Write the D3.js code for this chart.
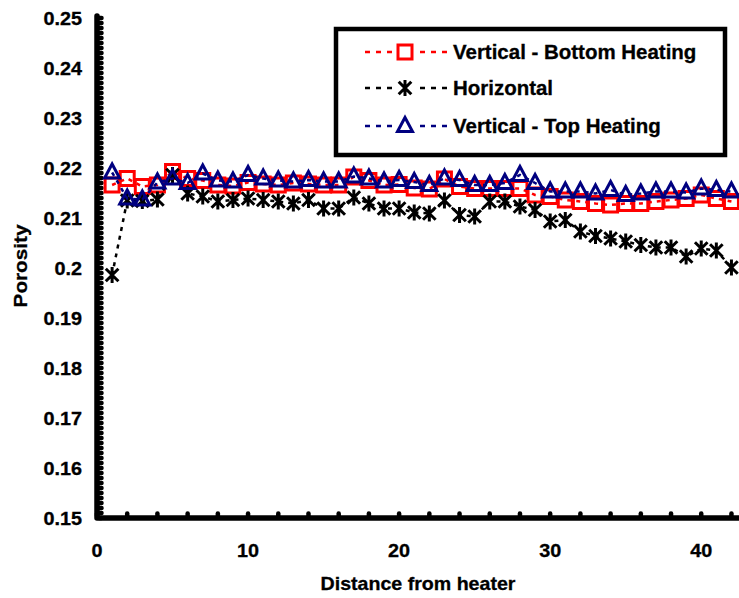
<!DOCTYPE html>
<html>
<head>
<meta charset="utf-8">
<script src="https://cdn.jsdelivr.net/npm/d3@7"></script>
<style>
  body { margin: 0; background: #fff; }
  svg { display: block; font-family: "Liberation Sans", Arial, sans-serif; font-weight: bold; }
</style>
</head>
<body>
<svg id="chart" width="739" height="598"></svg>
<script>
// distance from heater (x values)
const distance = [1, 2, 3, 4, 5, 6, 7, 8, 9, 10, 11, 12, 13, 14, 15, 16, 17, 18, 19, 20, 21,
  22, 23, 24, 25, 26, 27, 28, 29, 30, 31, 32, 33, 34, 35, 36, 37, 38, 39, 40, 41, 42];

// porosity, vertical - bottom heating
const bottomHeating = [0.2166, 0.2179, 0.2163, 0.2166, 0.2193, 0.2179, 0.2175, 0.2166, 0.2164, 0.2171,
  0.2168, 0.2166, 0.2170, 0.2168, 0.2166, 0.2166, 0.2182, 0.2175, 0.2166, 0.2167,
  0.2160, 0.2158, 0.2178, 0.2163, 0.2159, 0.2159, 0.2159, 0.2159, 0.2146, 0.2143,
  0.2136, 0.2133, 0.2129, 0.2126, 0.2129, 0.2129, 0.2133, 0.2136, 0.2139, 0.2146,
  0.2139, 0.2133];

// porosity, horizontal
const horizontal = [0.1986, 0.2135, 0.2134, 0.2137, 0.2186, 0.2149, 0.2143, 0.2133, 0.2136, 0.2139,
  0.2136, 0.2133, 0.2129, 0.2136, 0.2119, 0.2119, 0.2141, 0.2129, 0.2119, 0.2119,
  0.2111, 0.2109, 0.2135, 0.2106, 0.2103, 0.2133, 0.2133, 0.2123, 0.2116, 0.2093,
  0.2096, 0.2073, 0.2064, 0.2059, 0.2053, 0.2046, 0.2041, 0.2041, 0.2023, 0.2039,
  0.2035, 0.2001];

// porosity, vertical - top heating
const topHeating = [0.2191, 0.2139, 0.2137, 0.2171, 0.2179, 0.2170, 0.2189, 0.2175, 0.2173, 0.2186,
  0.2179, 0.2175, 0.2173, 0.2176, 0.2173, 0.2173, 0.2183, 0.2179, 0.2173, 0.2176,
  0.2172, 0.2166, 0.2179, 0.2176, 0.2166, 0.2166, 0.2170, 0.2186, 0.2170, 0.2153,
  0.2153, 0.2153, 0.2149, 0.2156, 0.2146, 0.2149, 0.2153, 0.2153, 0.2151, 0.2159,
  0.2156, 0.2153];

const xTickLabels = [0, 10, 20, 30, 40];
const yTickLabels = [0.15, 0.16, 0.17, 0.18, 0.19, 0.2, 0.21, 0.22, 0.23, 0.24, 0.25];
const seriesNames = ["Vertical - Bottom Heating", "Horizontal", "Vertical - Top Heating"];

const series = [
  { name: seriesNames[0], values: bottomHeating, color: "#ff0000", marker: "square" },
  { name: seriesNames[1], values: horizontal, color: "#000000", marker: "star" },
  { name: seriesNames[2], values: topHeating, color: "#000080", marker: "triangle" }
];

const svg = d3.select("#chart");
const m = { left: 97, right: 739, top: 18, bottom: 518 };

const x = d3.scaleLinear().domain([0, 42.5]).range([m.left, m.right]);
const y = d3.scaleLinear().domain([0.15, 0.25]).range([m.bottom, m.top]);

// axes: thick line with round bumps inside
const yMinor = d3.range(0, 101).map(i => 0.15 + i * 0.001);
const xMinor = d3.range(0, 22).map(i => i * 2);

const ax = svg.append("g");
ax.selectAll(".ytick").data(yMinor).enter().append("line")
  .attr("x1", m.left + 2).attr("x2", m.left + 4.5)
  .attr("y1", d => y(d)).attr("y2", d => y(d))
  .attr("stroke", "#000").attr("stroke-width", 4.5).attr("stroke-linecap", "round");
ax.selectAll(".xtick").data(xMinor).enter().append("line")
  .attr("x1", d => x(d)).attr("x2", d => x(d))
  .attr("y1", m.bottom - 2).attr("y2", m.bottom - 4.5)
  .attr("stroke", "#000").attr("stroke-width", 4.5).attr("stroke-linecap", "round");
ax.append("path")
  .attr("d", `M${m.left},${m.top - 2}V${m.bottom}H${m.right + 2}`)
  .attr("fill", "none").attr("stroke", "#000").attr("stroke-width", 5.5)
  .attr("stroke-linejoin", "round").attr("stroke-linecap", "round");

// text that is a bit wider than the font, like the original
function wideText(g, tx, ty, str, size, sx, anchor, rot) {
  return g.append("text")
    .attr("transform", `translate(${tx},${ty})` + (rot ? ` rotate(${rot})` : "") + ` scale(${sx},1)`)
    .attr("text-anchor", anchor)
    .attr("font-size", size)
    .attr("fill", "#000")
    .attr("stroke", "#000").attr("stroke-width", 0.3)
    .text(str);
}

yTickLabels.forEach(v => wideText(svg, 82, y(v) + 6.5, v, 18, 1.1, "end"));
xTickLabels.forEach(v => wideText(svg, x(v), 557, v, 18, 1.1, "middle"));

wideText(svg, 418, 590, "Distance from heater", 18.5, 1.06, "middle");
wideText(svg, 27, 266, "Porosity", 19, 1.09, "middle", -90);

// markers
function drawMarker(g, kind, color, cx, cy) {
  if (kind === "square") {
    g.append("rect")
      .attr("x", cx - 7).attr("y", cy - 7).attr("width", 14).attr("height", 14)
      .attr("fill", "none").attr("stroke", color).attr("stroke-width", 3);
  } else if (kind === "triangle") {
    g.append("path")
      .attr("d", `M${cx},${cy - 8.5}L${cx + 7.5},${cy + 5.5}L${cx - 7.5},${cy + 5.5}Z`)
      .attr("fill", "none").attr("stroke", color).attr("stroke-width", 3)
      .attr("stroke-linejoin", "miter");
  } else {
    const r = 8, d = 6.3;
    g.append("path")
      .attr("d", `M${cx},${cy - r}V${cy + r}M${cx - d},${cy - d}L${cx + d},${cy + d}M${cx + d},${cy - d}L${cx - d},${cy + d}`)
      .attr("fill", "none").attr("stroke", color).attr("stroke-width", 3);
  }
}

const line = d3.line().x((d, i) => x(distance[i])).y(d => y(d));

series.forEach(s => {
  const g = svg.append("g");
  g.append("path")
    .attr("d", line(s.values))
    .attr("fill", "none").attr("stroke", s.color).attr("stroke-width", 2.5)
    .attr("stroke-dasharray", "4,5");
  s.values.forEach((v, i) => drawMarker(g, s.marker, s.color, x(distance[i]), y(v)));
});

// legend
const lg = svg.append("g");
lg.append("rect")
  .attr("x", 336).attr("y", 29).attr("width", 389).attr("height", 126)
  .attr("fill", "#fff").attr("stroke", "#000").attr("stroke-width", 4.5);
const legendRows = [52, 88, 126];
series.forEach((s, i) => {
  const ly = legendRows[i];
  lg.append("line")
    .attr("x1", 365).attr("x2", 448).attr("y1", ly).attr("y2", ly)
    .attr("stroke", s.color).attr("stroke-width", 2.5).attr("stroke-dasharray", "5,6");
  lg.append("rect").attr("x", 396).attr("y", ly - 9).attr("width", 18).attr("height", 18).attr("fill", "#fff");
  drawMarker(lg, s.marker, s.color, 405, ly);
  wideText(lg, 453, ly + 7, s.name, 19.5, 1.05, "start");
});
</script>
</body>
</html>
